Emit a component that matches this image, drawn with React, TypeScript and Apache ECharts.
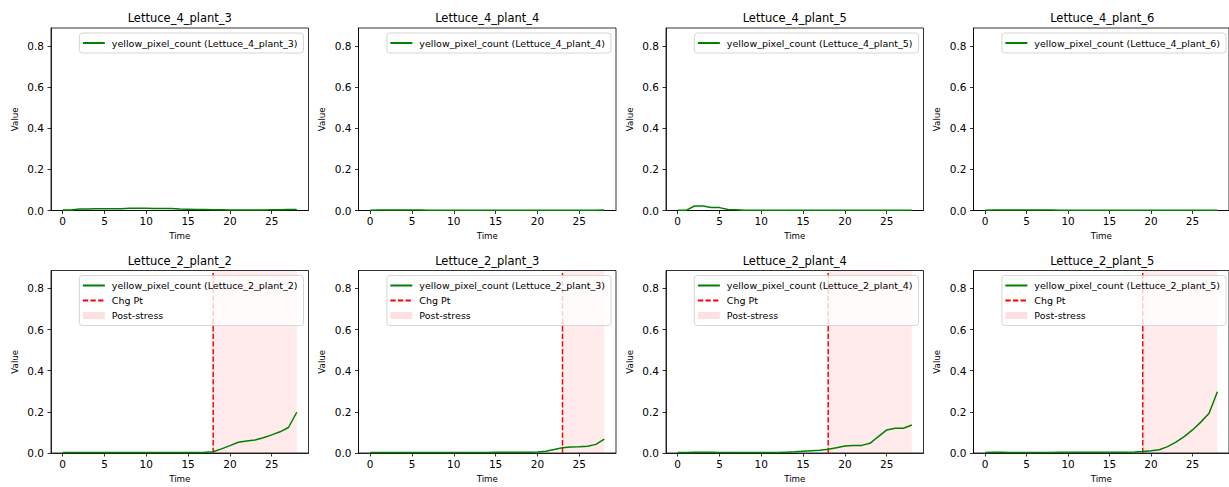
import React, { useEffect, useRef } from "react";
import * as echarts from "echarts";

const TIME = [0, 1, 2, 3, 4, 5, 6, 7, 8, 9, 10, 11, 12, 13, 14, 15, 16, 17, 18, 19, 20, 21, 22, 23, 24, 25, 26, 27, 28];

const PLANTS = [
  "Lettuce_4_plant_3",
  "Lettuce_4_plant_4",
  "Lettuce_4_plant_5",
  "Lettuce_4_plant_6",
  "Lettuce_2_plant_2",
  "Lettuce_2_plant_3",
  "Lettuce_2_plant_4",
  "Lettuce_2_plant_5",
];

const L4P3 = [0.002, 0.003, 0.007, 0.007, 0.008, 0.008, 0.008, 0.009, 0.011, 0.011, 0.011, 0.010, 0.010, 0.010, 0.007, 0.006, 0.005, 0.005, 0.004, 0.004, 0.003, 0.003, 0.003, 0.003, 0.003, 0.004, 0.004, 0.005, 0.005];
const L4P4 = [0.001, 0.002, 0.003, 0.003, 0.003, 0.002, 0.002, 0.001, 0.001, 0.001, 0.001, 0.001, 0.001, 0.001, 0.001, 0.001, 0.001, 0.001, 0.001, 0.001, 0.001, 0.001, 0.001, 0.001, 0.001, 0.001, 0.001, 0.001, 0.002];
const L4P5 = [0.001, 0.001, 0.022, 0.022, 0.015, 0.014, 0.005, 0.004, 0.001, 0.001, 0.001, 0.001, 0.001, 0.001, 0.001, 0.001, 0.001, 0.001, 0.001, 0.001, 0.001, 0.001, 0.001, 0.001, 0.001, 0.001, 0.001, 0.001, 0.001];
const L4P6 = [0.001, 0.002, 0.003, 0.003, 0.003, 0.003, 0.003, 0.002, 0.002, 0.001, 0.001, 0.001, 0.001, 0.001, 0.001, 0.001, 0.001, 0.001, 0.001, 0.001, 0.001, 0.001, 0.001, 0.001, 0.001, 0.001, 0.001, 0.001, 0.001];
const L2P2 = [0.002, 0.003, 0.003, 0.002, 0.002, 0.002, 0.002, 0.002, 0.002, 0.002, 0.002, 0.002, 0.002, 0.002, 0.002, 0.003, 0.003, 0.004, 0.006, 0.020, 0.036, 0.052, 0.058, 0.063, 0.074, 0.088, 0.103, 0.124, 0.198];
const L2P3 = [0.002, 0.002, 0.002, 0.002, 0.002, 0.002, 0.002, 0.002, 0.002, 0.002, 0.002, 0.002, 0.003, 0.003, 0.003, 0.004, 0.004, 0.004, 0.004, 0.004, 0.005, 0.009, 0.017, 0.026, 0.029, 0.030, 0.033, 0.042, 0.068];
const L2P4 = [0.002, 0.003, 0.004, 0.004, 0.004, 0.003, 0.002, 0.002, 0.002, 0.002, 0.002, 0.002, 0.002, 0.004, 0.006, 0.009, 0.011, 0.013, 0.018, 0.026, 0.034, 0.037, 0.037, 0.047, 0.080, 0.112, 0.120, 0.120, 0.136];
const L2P5 = [0.002, 0.004, 0.004, 0.003, 0.003, 0.003, 0.003, 0.003, 0.003, 0.004, 0.004, 0.004, 0.004, 0.004, 0.004, 0.004, 0.004, 0.004, 0.005, 0.007, 0.011, 0.016, 0.031, 0.053, 0.080, 0.112, 0.150, 0.193, 0.298];

const VALUES = [L4P3, L4P4, L4P5, L4P6, L2P2, L2P3, L2P4, L2P5];
const CHANGE_POINTS: (number | null)[] = [null, null, null, null, 18, 23, 18, 19];

const X_TICKS = [0, 5, 10, 15, 20, 25];
const Y_TICKS = [0, 0.2, 0.4, 0.6, 0.8];
const X_MIN = -1.4;
const X_MAX = 29.4;
const Y_MAX = 0.887;

const W = 1229;
const H = 487;
const PANEL_LEFT = [51, 358.5, 666, 973.5];
const PANEL_TOP = [28, 270.5];
const PANEL_W = 257.5;
const PANEL_H = 182.5;
const FONT = "DejaVu Sans";

export default function App() {
  const ref = useRef<HTMLDivElement>(null);

  useEffect(() => {
    if (!ref.current) return;
    const chart = echarts.init(ref.current, null, { renderer: "svg", width: W, height: H });

    const grids: any[] = [];
    const xAxes: any[] = [];
    const yAxes: any[] = [];
    const titles: any[] = [];
    const legends: any[] = [];
    const series: any[] = [];

    PLANTS.forEach((plant, i) => {
      const col = i % 4;
      const row = Math.floor(i / 4);
      const left = PANEL_LEFT[col];
      const top = PANEL_TOP[row];
      grids.push({
        left,
        top,
        width: PANEL_W,
        height: PANEL_H,
        show: true,
        borderColor: "#000",
        borderWidth: 0.8,
        backgroundColor: "transparent",
        containLabel: false,
      });
      xAxes.push({
        type: "value",
        gridIndex: i,
        min: X_MIN,
        max: X_MAX,
        name: "Time",
        nameLocation: "middle",
        nameGap: 21,
        nameTextStyle: { fontFamily: FONT, fontSize: 8.7, color: "#000" },
        axisLine: { show: true, onZero: false, lineStyle: { color: "#000", width: 0.8 } },
        axisTick: { show: true, length: 3.5, lineStyle: { color: "#000", width: 0.8 }, customValues: X_TICKS },
        axisLabel: { show: true, margin: 5, fontFamily: FONT, fontSize: 10.5, color: "#000", customValues: X_TICKS },
        splitLine: { show: false },
      });
      yAxes.push({
        type: "value",
        gridIndex: i,
        min: 0,
        max: Y_MAX,
        name: "Value",
        nameLocation: "middle",
        nameGap: 32,
        nameTextStyle: { fontFamily: FONT, fontSize: 8.7, color: "#000" },
        axisLine: { show: true, onZero: false, lineStyle: { color: "#000", width: 0.8 } },
        axisTick: { show: true, length: 3.5, lineStyle: { color: "#000", width: 0.8 }, customValues: Y_TICKS },
        axisLabel: {
          show: true,
          margin: 7,
          fontFamily: FONT,
          fontSize: 10.5,
          color: "#000",
          customValues: Y_TICKS,
          formatter: (v: number) => v.toFixed(1),
        },
        splitLine: { show: false },
      });
      titles.push({
        text: plant,
        left: left + PANEL_W / 2,
        top: top - 17,
        textAlign: "center",
        padding: 0,
        textStyle: { fontFamily: FONT, fontSize: 11.5, fontWeight: "normal", color: "#000", lineHeight: 14 },
      });

      const lineName = `yellow_pixel_count (${plant})`;
      const cp = CHANGE_POINTS[i];
      const legendData: any[] = [{ name: lineName, itemStyle: { opacity: 0 } }];

      if (cp !== null) {
        series.push({
          name: "Post-stress",
          type: "line",
          xAxisIndex: i,
          yAxisIndex: i,
          data: [
            [cp, Y_MAX],
            [TIME[TIME.length - 1], Y_MAX],
          ],
          symbol: "none",
          lineStyle: { width: 0, color: "rgba(255,0,0,0)" },
          itemStyle: { color: "rgba(255,0,0,0.12)" },
          areaStyle: { color: "rgba(255,0,0,0.11)", origin: "start" },
          z: 1,
          silent: true,
        });
        series.push({
          name: "Chg Pt",
          type: "line",
          xAxisIndex: i,
          yAxisIndex: i,
          data: [
            [cp, 0],
            [cp, Y_MAX],
          ],
          symbol: "none",
          lineStyle: { color: "#ff0000", width: 1.5, type: [5.3, 2.3] },
          itemStyle: { color: "#ff0000" },
          z: 2,
          silent: true,
        });
        legendData.push({ name: "Chg Pt", itemStyle: { opacity: 0 } });
        legendData.push({ name: "Post-stress", icon: "rect", itemStyle: { color: "rgba(255,0,0,0.12)", borderWidth: 0, opacity: 1 } });
      }

      series.push({
        name: lineName,
        type: "line",
        xAxisIndex: i,
        yAxisIndex: i,
        data: TIME.map((t, k) => [t, VALUES[i][k]]),
        symbol: "none",
        lineStyle: { color: "#008000", width: 1.5 },
        itemStyle: { color: "#008000" },
        z: 3,
        silent: true,
      });

      legends.push({
        orient: "vertical",
        align: "left",
        right: W - (left + PANEL_W - 5),
        top: top + 5,
        data: legendData,
        selectedMode: false,
        itemWidth: 22,
        itemHeight: 7,
        itemGap: 3,
        padding: [4, 6, 4, 2.5],
        backgroundColor: "rgba(255,255,255,0.8)",
        borderColor: "#cccccc",
        borderWidth: 0.8,
        borderRadius: 3,
        textStyle: { fontFamily: FONT, fontSize: 9.5, color: "#000", lineHeight: 12, padding: [0, 0, 0, 2] },
      });
    });

    chart.setOption({
      animation: false,
      backgroundColor: "#ffffff",
      textStyle: { fontFamily: FONT },
      title: titles,
      grid: grids,
      xAxis: xAxes,
      yAxis: yAxes,
      legend: legends,
      series,
    });

    return () => {
      chart.dispose();
    };
  }, []);

  return (
    <div
      ref={ref}
      style={{ position: "fixed", left: 0, top: 0, width: W, height: H, background: "#fff" }}
    />
  );
}
